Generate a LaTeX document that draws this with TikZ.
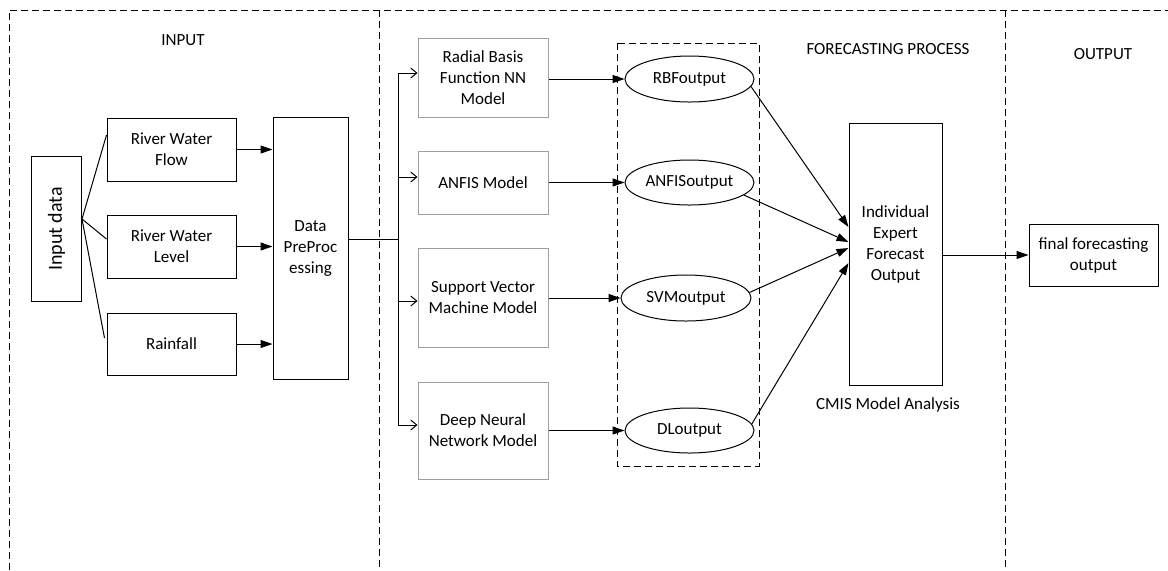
\documentclass[tikz,border=0pt]{standalone}
\usepackage{fontspec}
\setmainfont{Carlito}
\usetikzlibrary{arrows.meta,shapes.geometric,calc}
\begin{document}
\begin{tikzpicture}[x=0.5pt,y=-0.5pt,
  font=\fontsize{8.5}{10.5}\selectfont,
  box/.style={draw,line width=0.5pt,rectangle,inner sep=0pt,align=center},
  mbox/.style={draw=gray!75,line width=0.5pt,rectangle,inner sep=0pt,align=center,minimum width=65pt},
  oval/.style={draw,line width=0.5pt,ellipse,inner sep=0pt,minimum width=64.5pt,minimum height=22.5pt},
  region/.style={line width=0.5pt,dash pattern=on 3.5pt off 2pt},
  conn/.style={line width=0.5pt},
  arr/.style={line width=0.5pt,-{Triangle[length=6pt,width=4pt]}},
  oarr/.style={line width=0.5pt,-{Straight Barb[length=3pt,width=5pt]}}
]
\useasboundingbox (0,0) rectangle (1168,570);

% region frames
\draw[region] (9,570) -- (9,10) -- (1168,10);
\draw[region] (379,10) -- (379,570);
\draw[region] (1005,10) -- (1005,570);
\draw[region] (617,43) rectangle (759,466);

% titles
\node (tin) at (183,40) {INPUT};
\node (tfp) at (888,49) {FORECASTING PROCESS};
\node (tout) at (1103,54) {OUTPUT};
\node (tcmis) at (888,405) {CMIS Model Analysis};

% input side
\node[box,minimum width=25pt,minimum height=72.5pt] (inp) at (56.5,229) {\rotatebox{90}{\fontsize{10}{12}\selectfont Input data}};
\node[box,minimum width=64.5pt,minimum height=31.5pt] (rwf) at (171.5,149.5) {River Water\\Flow};
\node[box,minimum width=64.5pt,minimum height=31.5pt] (rwl) at (171.5,246.5) {River Water\\Level};
\node[box,minimum width=64.5pt,minimum height=31pt] (rain) at (171.5,344) {Rainfall};
\node[box,minimum width=37.5pt,minimum height=131pt] (dp) at (310.5,248) {Data\\PreProc\\essing};

% models
\node[mbox,minimum height=39.5pt] (rbf) at (483,77.5) {Radial Basis\\Function NN\\Model};
\node[mbox,minimum height=31.5pt] (anfis) at (483,182.5) {ANFIS Model};
\node[mbox,minimum height=49.5pt] (svm) at (483,297.5) {Support Vector\\Machine Model};
\node[mbox,minimum height=48.5pt] (dnn) at (483,430.5) {Deep Neural\\Network Model};

% outputs
\node[oval,minimum height=23pt] (rbfo) at (689.5,79) {RBFoutput};
\node[oval] (anfo) at (689.5,182.5) {ANFISoutput};
\node[oval,minimum width=65pt,minimum height=23pt] (svmo) at (686,298) {SVMoutput};
\node[oval] (dlo) at (689.5,430.5) {DLoutput};

\node[box,minimum width=46.5pt,minimum height=131pt,
  label={[align=center,yshift=5pt]center:Individual\\Expert\\Forecast\\Output}] (ie) at (895.5,254) {};
\node[box,minimum width=64.5pt,minimum height=31pt] (final) at (1093.5,255) {final forecasting\\output};

% input fan
\coordinate (src) at ($(inp.east)+(0,-10)$);
\draw[conn] (src) -- ($(rwf.west)+(0,-14.5)$);
\draw[conn] (src) -- ($(rwl.west)+(0,-7.5)$);
\draw[conn] (src) -- ($(rain.west)+(-2,-6)$);

\draw[arr] (rwf.east) -- (dp.west |- rwf.east);
\draw[arr] (rwl.east) -- (dp.west |- rwl.east);
\draw[arr] (rain.east) -- (dp.west |- rain.east);

% bus
\coordinate (bus) at (398,239);
\coordinate (b1) at (398,73);
\coordinate (b2) at (398,177);
\coordinate (b3) at (398,301);
\coordinate (b4) at (398,425);
\draw[conn] (dp.east |- bus) -- (bus);
\draw[conn] (b1) -- (b4);
\draw[oarr] (b1) -- (rbf.west |- b1);
\draw[oarr] (b2) -- (anfis.west |- b2);
\draw[oarr] (b3) -- (svm.west |- b3);
\draw[oarr] (b4) -- (dnn.west |- b4);

% models to outputs
\draw[arr] (rbf.east |- rbfo.west) -- (rbfo.west);
\draw[arr] (anfis.east |- anfo.west) -- (anfo.west);
\draw[arr] (svm.east |- svmo.west) -- (svmo.west);
\draw[arr] (dnn.east |- dlo.west) -- (dlo.west);

% outputs to combiner
\draw[arr] (rbfo.-7) -- ($(ie.west)+(0,-27)$);
\draw[arr] (anfo.-13) -- ($(ie.west)+(0,-12)$);
\draw[arr] (svmo.5) -- ($(ie.west)+(0,-6)$);
\draw[arr] (dlo.6) -- ($(ie.west)+(0,9)$);

\draw[arr] (ie.east |- final.west) -- (final.west);
\end{tikzpicture}
\end{document}
